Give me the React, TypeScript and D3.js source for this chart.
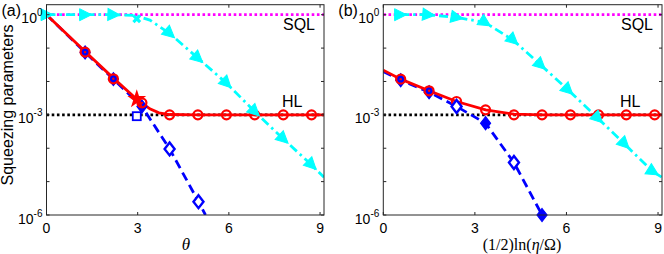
import * as d3 from 'd3';

// shared axis content (y values are stored as log10 exponents)
const xTicks = [0, 3, 6, 9];
const yTickExps = [0, -1, -2, -3, -4, -5, -6];
const yLabelExps = [0, -3, -6];
const sqlLevel = 0;
const hlLevel = -3;

// ---- panel (a): x = theta ----
const redLineA: [number, number][] = [
  [0, 0], [1.27, -1.1], [2.2, -1.9], [2.97, -2.53], [3.14, -2.64], [3.4, -2.82],
  [3.7, -2.94], [4.05, -2.99], [4.98, -3], [5.92, -3], [6.85, -3], [7.79, -3], [8.72, -3], [9.13, -3],
];
const redCirclesA: [number, number][] = [
  [1.27, -1.12], [2.2, -1.92], [3.14, -2.64], [4.05, -3], [4.98, -3], [5.92, -3], [6.85, -3], [7.79, -3], [8.72, -3],
];
const redStarA: [number, number][] = [[2.97, -2.53]];
const blueLineA: [number, number][] = [
  [0, 0], [1.27, -1.13], [2.2, -1.93], [3.14, -2.75], [4.05, -4.02], [5.0, -5.6], [5.23, -6],
];
const blueFilledA: [number, number][] = [[1.27, -1.13], [2.2, -1.93], [3.14, -2.75]];
const blueOpenA: [number, number][] = [[4.05, -4.02], [5.0, -5.6]];
const blueSquareA: [number, number][] = [[2.97, -3.04]];
const cyanLineA: [number, number][] = [
  [0, 0], [1.27, 0], [2.2, 0], [2.9, -0.02], [3.4, -0.16], [4.05, -0.56], [4.98, -1.3],
  [5.92, -2.05], [6.85, -2.9], [7.79, -3.72], [8.72, -4.5], [9.13, -4.87],
];
const cyanTrianglesA: [number, number][] = [
  [0, 0], [1.27, 0], [2.2, 0], [4.05, -0.56], [4.98, -1.3], [5.92, -2.05], [6.85, -2.9], [7.79, -3.72], [8.72, -4.5],
];
const cyanStarA: [number, number][] = [[2.97, -0.12]];

// ---- panel (b): x = (1/2)ln(eta/Omega) ----
const redLineB: [number, number][] = [
  [0, -1.66], [0.57, -1.93], [1.5, -2.28], [2.4, -2.6], [3.35, -2.85], [4.28, -2.98],
  [5.2, -3], [6.13, -3], [7.05, -3], [7.96, -3], [8.89, -3], [9.13, -3],
];
const redCirclesB: [number, number][] = [
  [0.57, -1.93], [1.5, -2.28], [2.4, -2.6], [3.35, -2.85], [4.28, -3], [5.2, -3], [6.13, -3], [7.05, -3], [7.96, -3], [8.89, -3],
];
const blueLineB: [number, number][] = [
  [0, -1.7], [0.57, -1.96], [1.5, -2.32], [2.4, -2.75], [3.35, -3.25], [4.28, -4.43], [5.2, -6],
];
const blueFilledB: [number, number][] = [[0.57, -1.96], [1.5, -2.32], [3.35, -3.25], [5.2, -6]];
const blueOpenB: [number, number][] = [[2.4, -2.75], [4.28, -4.43]];
const cyanLineB: [number, number][] = [
  [0.55, 0], [1.47, 0], [2.4, -0.08], [3.33, -0.23], [4.25, -0.76], [5.15, -1.5],
  [6.05, -2.25], [7.03, -3.1], [7.9, -3.87], [8.83, -4.7], [9.13, -4.87],
];
const cyanTrianglesB: [number, number][] = [
  [0.55, 0], [1.47, 0], [2.4, -0.08], [3.33, -0.23], [4.25, -0.76], [5.15, -1.5],
  [6.05, -2.25], [7.03, -3.1], [7.9, -3.87], [8.83, -4.7],
];

const RED = '#ff0000';
const BLUE = '#0000ff';
const CYAN = '#00ffff';
const MAGENTA = '#ff00ff';
const FRAME = '#262626';
const FONT = 'Liberation Sans, Arial, sans-serif';

const yScale = d3.scaleLog().domain([1e-6, Math.pow(10, 0.3)]).range([215, 4.7]);
const ys = (e: number) => yScale(Math.pow(10, e));

const diamond = 'M0,-6.5L5,0L0,6.5L-5,0Z';
const triangle = 'M-5.5,-6L6.5,0L-5.5,6Z';

type Series = {
  redLine: [number, number][];
  redCircles: [number, number][];
  redStar: [number, number][];
  blueLine: [number, number][];
  blueFilled: [number, number][];
  blueOpen: [number, number][];
  blueSquare: [number, number][];
  cyanLine: [number, number][];
  cyanTriangles: [number, number][];
  cyanStar: [number, number][];
};

function Panel({ id, x0, x1, tag, xLabel, s }: {
  id: string; x0: number; x1: number; tag: string; xLabel: React.ReactNode; s: Series;
}) {
  const x = d3.scaleLinear().domain([0, 9.13]).range([x0, x1]);
  const line = d3.line<[number, number]>().x(d => x(d[0])).y(d => ys(d[1]));
  const top = ys(0.3);
  const bottom = ys(-6);

  // direction of the cyan line at each triangle
  const angleAt = (p: [number, number]) => {
    const pts = s.cyanLine;
    let i = pts.findIndex(q => q[0] > p[0] + 0.01);
    if (i < 0) i = pts.length - 1;
    const a = pts[Math.max(i - 1, 0)];
    const b = pts[i];
    return (Math.atan2(ys(b[1]) - ys(a[1]), x(b[0]) - x(a[0])) * 180) / Math.PI;
  };
  const star = d3.symbol(d3.symbolStar, 110)() as string;
  const cyanStar = d3.symbol(d3.symbolCross, 50)() as string;

  return (
    <g>
      <defs>
        <clipPath id={id}>
          <rect x={x0} y={top} width={x1 - x0} height={bottom - top} />
        </clipPath>
      </defs>
      <text x={x0 - 45} y={16} fontSize={16} fontFamily={FONT}>{tag}</text>

      <g clipPath={`url(#${id})`} fill="none" strokeWidth={2.8}>
        <line x1={x0} x2={x1} y1={ys(sqlLevel)} y2={ys(sqlLevel)} stroke={MAGENTA} strokeDasharray="2.6,2.6" />
        <line x1={x0} x2={x1} y1={ys(hlLevel)} y2={ys(hlLevel)} stroke="#000" strokeDasharray="2.6,2.6" />
        <path d={line(s.cyanLine) as string} stroke={CYAN} strokeDasharray="9,4,2.5,4" />
        <path d={line(s.blueLine) as string} stroke={BLUE} strokeDasharray="9,5" />
        <path d={line(s.redLine) as string} stroke={RED} />
      </g>

      {s.blueFilled.map((d, i) => (
        <path key={'bf' + i} d={diamond} transform={`translate(${x(d[0])},${ys(d[1])})`} fill={BLUE} stroke={BLUE} strokeWidth={1.2} />
      ))}
      {s.redCircles.map((d, i) => (
        <circle key={'rc' + i} cx={x(d[0])} cy={ys(d[1])} r={4.5} fill="none" stroke={RED} strokeWidth={2.2} />
      ))}
      {s.redCircles.map((d, i) => (
        <circle key={'rd' + i} cx={x(d[0])} cy={ys(d[1])} r={1.2} fill={RED} />
      ))}
      {s.redStar.map((d, i) => (
        <path key={'rs' + i} d={star} transform={`translate(${x(d[0])},${ys(d[1])})`} fill={RED} />
      ))}
      {s.blueOpen.map((d, i) => (
        <path key={'bo' + i} d={diamond} transform={`translate(${x(d[0])},${ys(d[1])})`} fill="#fff" stroke={BLUE} strokeWidth={2.4} />
      ))}
      {s.blueSquare.map((d, i) => (
        <rect key={'bs' + i} x={x(d[0]) - 4} y={ys(d[1]) - 4} width={8} height={8} fill="#fff" stroke={BLUE} strokeWidth={1.8} />
      ))}
      {s.cyanTriangles.map((d, i) => (
        <path key={'ct' + i} d={triangle}
          transform={`translate(${x(d[0])},${ys(d[1])}) rotate(${angleAt(d)})`} fill={CYAN} stroke={CYAN} strokeWidth={1} />
      ))}
      {s.cyanStar.map((d, i) => (
        <path key={'cs' + i} d={cyanStar} transform={`translate(${x(d[0])},${ys(d[1])}) rotate(45)`} fill={CYAN} />
      ))}

      <text x={x1 - 9} y={30} textAnchor="end" fontSize={16} fontFamily={FONT}>SQL</text>
      <text x={x1 - 42} y={107} fontSize={16} fontFamily={FONT}>HL</text>

      <rect x={x0} y={top} width={x1 - x0} height={bottom - top} fill="none" stroke={FRAME} strokeWidth={1} />
      {xTicks.map(t => (
        <g key={'xt' + t}>
          <line x1={x(t)} x2={x(t)} y1={bottom} y2={bottom - 3} stroke={FRAME} />
          <line x1={x(t)} x2={x(t)} y1={top} y2={top + 3} stroke={FRAME} />
          <text x={x(t)} y={233} textAnchor="middle" fontSize={14} fontFamily={FONT}>{t}</text>
        </g>
      ))}
      {yTickExps.map(e => (
        <g key={'yt' + e}>
          <line x1={x0} x2={x0 + 3} y1={ys(e)} y2={ys(e)} stroke={FRAME} />
          <line x1={x1} x2={x1 - 3} y1={ys(e)} y2={ys(e)} stroke={FRAME} />
        </g>
      ))}
      {yLabelExps.map(e => (
        <text key={'yl' + e} x={x0 - 4} y={ys(e) + 8.5} textAnchor="end" fontSize={14} fontFamily={FONT}>
          <tspan>10</tspan>
          <tspan dy={-7} fontSize={10}>{e}</tspan>
        </text>
      ))}
      {xLabel}
    </g>
  );
}

export default function App() {
  const a: Series = {
    redLine: redLineA, redCircles: redCirclesA, redStar: redStarA,
    blueLine: blueLineA, blueFilled: blueFilledA, blueOpen: blueOpenA, blueSquare: blueSquareA,
    cyanLine: cyanLineA, cyanTriangles: cyanTrianglesA, cyanStar: cyanStarA,
  };
  const b: Series = {
    redLine: redLineB, redCircles: redCirclesB, redStar: [],
    blueLine: blueLineB, blueFilled: blueFilledB, blueOpen: blueOpenB, blueSquare: [],
    cyanLine: cyanLineB, cyanTriangles: cyanTrianglesB, cyanStar: [],
  };
  return (
    <svg width={664} height={254} style={{ position: 'absolute', left: 0, top: 0, background: '#fff' }}>
      <rect width={664} height={254} fill="#fff" />
      <text transform="translate(13,105) rotate(-90)" textAnchor="middle" fontSize={16} fontFamily={FONT}>
        Squeezing parameters
      </text>
      <Panel id="clipA" x0={46.5} x1={324} tag="(a)" s={a}
        xLabel={<text x={186} y={250} textAnchor="middle" fontSize={17} fontStyle="italic" fontFamily="Liberation Serif, serif">θ</text>} />
      <Panel id="clipB" x0={383.3} x1={662} tag="(b)" s={b}
        xLabel={
          <text x={522} y={250} textAnchor="middle" fontSize={16} fontFamily="Liberation Serif, serif">
            (1/2)ln(<tspan fontStyle="italic">η</tspan>/Ω)
          </text>
        } />
    </svg>
  );
}
